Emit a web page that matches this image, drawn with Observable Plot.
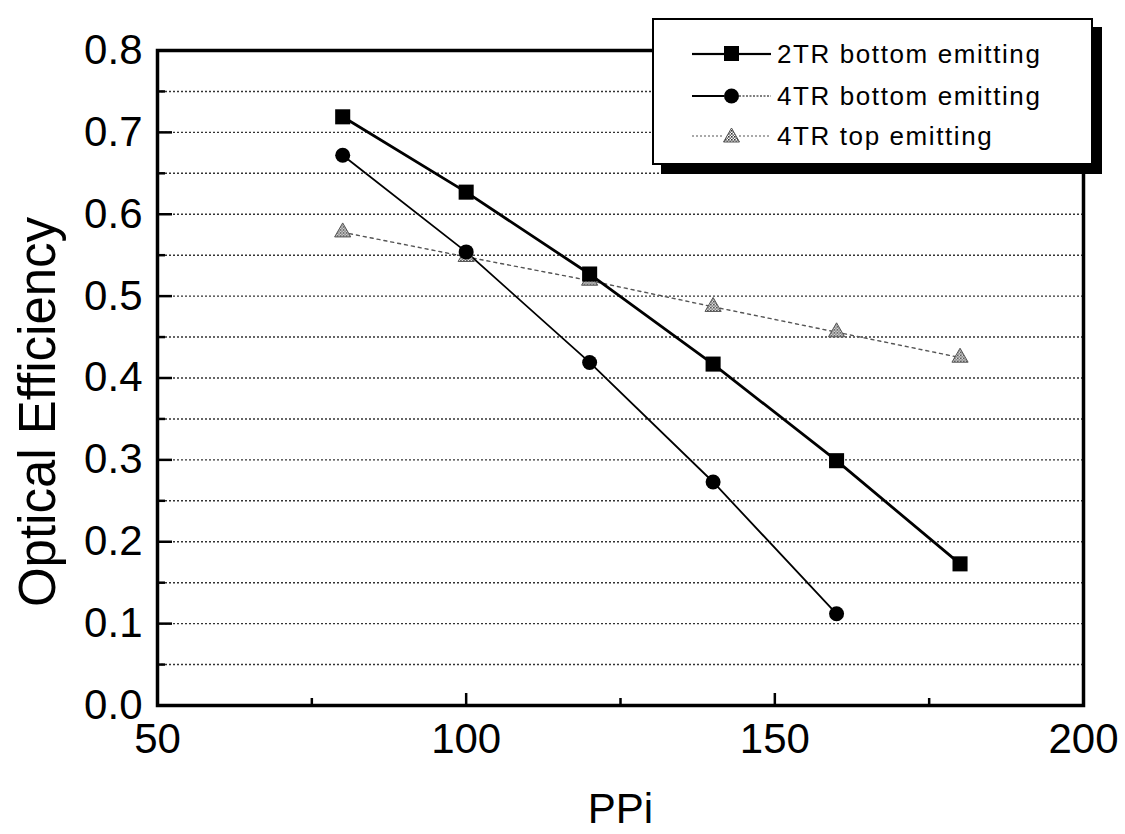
<!DOCTYPE html>
<html>
<head>
<meta charset="utf-8">
<script src="https://cdn.jsdelivr.net/npm/d3@7"></script>
<script src="https://cdn.jsdelivr.net/npm/@observablehq/plot@0.6"></script>
<style>
  html, body { margin: 0; padding: 0; background: #fff; }
  #wrap { position: relative; width: 1125px; height: 834px; font-family: "Liberation Sans", Arial, sans-serif; }
  #legend { position: absolute; left: 652px; top: 18px; width: 437px; height: 143px; border: 2px solid #000;
            background: #fff; box-shadow: 9px 9px 0 #000; }
  .row { position: absolute; left: 38px; height: 30px; display: flex; align-items: center; font-size: 26px; letter-spacing: 1.6px; color: #000; white-space: nowrap; }
  .row svg { margin-right: 6px; }
</style>
</head>
<body>
<div id="wrap"></div>
<script>
const ppi = [80, 100, 120, 140, 160, 180];
const tr2Bottom = [0.719, 0.627, 0.527, 0.417, 0.299, 0.173];
const tr4Bottom = [0.672, 0.554, 0.419, 0.273, 0.112];
const tr4Top = [0.578, 0.548, 0.519, 0.487, 0.456, 0.425];
const seriesNames = ["2TR bottom emitting", "4TR bottom emitting", "4TR top emitting"];
const yTicks = [0, 0.1, 0.2, 0.3, 0.4, 0.5, 0.6, 0.7, 0.8];
const yMinor = [0.05, 0.15, 0.25, 0.35, 0.45, 0.55, 0.65, 0.75];
const gridVals = [0.05, 0.1, 0.15, 0.2, 0.25, 0.3, 0.35, 0.4, 0.45, 0.5, 0.55, 0.6, 0.65, 0.7, 0.75];
const xTicks = [50, 100, 150, 200];
const xMinor = [75, 125, 175];
const xLabel = "PPi";
const yLabel = "Optical Efficiency";

const d2 = ppi.map((x, i) => ({x, y: tr2Bottom[i]}));
const d4b = tr4Bottom.map((y, i) => ({x: ppi[i], y}));
const d4t = ppi.map((x, i) => ({x, y: tr4Top[i]}));

const W = 1125, H = 834, mL = 157, mR = 42, mT = 50, mB = 129;
const fw = W - mL - mR, fh = H - mT - mB;

const chart = Plot.plot({
  width: W, height: H,
  marginLeft: mL, marginRight: mR, marginTop: mT, marginBottom: mB,
  style: {fontFamily: "'Liberation Sans', Arial, sans-serif", fontSize: "42px", color: "#000", background: "#fff"},
  x: {domain: [50, 200]},
  y: {domain: [0, 0.8]},
  marks: [
    Plot.gridY(gridVals, {stroke: "#000", strokeOpacity: 0.8, strokeWidth: 1.4, strokeDasharray: "2,2"}),
    Plot.axisY(yTicks, {tickSize: 0, tickPadding: 15, tickFormat: d3.format(".1f"), label: null, fontSize: 42}),
    Plot.axisX(xTicks, {tickSize: 0, tickPadding: 18, label: null, fontSize: 42}),
    // inward ticks
    Plot.tickY(yTicks, {y: d => d, insetRight: fw - 15, strokeWidth: 2.5}),
    Plot.tickY(yMinor, {y: d => d, insetRight: fw - 8, strokeWidth: 2.5}),
    Plot.tickX(xTicks, {x: d => d, insetTop: fh - 12, strokeWidth: 2.5}),
    Plot.tickX(xMinor, {x: d => d, insetTop: fh - 7, strokeWidth: 2.5}),
    Plot.frame({stroke: "#000", strokeWidth: 3.5}),
    Plot.line(d4t, {x: "x", y: "y", stroke: "#555", strokeWidth: 1.4, strokeDasharray: "3,4"}),
    Plot.line(d4b, {x: "x", y: "y", stroke: "#000", strokeWidth: 1.8}),
    Plot.line(d2, {x: "x", y: "y", stroke: "#000", strokeWidth: 2.8}),
    Plot.dot(d4t, {x: "x", y: "y", symbol: "triangle", r: 6, fill: "url(#hatch)", stroke: "#555", strokeWidth: 1}),
    Plot.dot(d4b, {x: "x", y: "y", symbol: "circle", r: 7.5, fill: "#000"}),
    Plot.dot(d2, {x: "x", y: "y", symbol: "square", r: 8.5, fill: "#000"}),
    Plot.text([yLabel], {frameAnchor: "left", dx: -119, dy: 34, rotate: -90, fontSize: 51, textAnchor: "middle", lineAnchor: "middle"}),
    Plot.text([xLabel], {frameAnchor: "bottom", dy: 104, fontSize: 42, textAnchor: "middle", lineAnchor: "middle"})
  ]
});

// hatch pattern for triangle markers
const svg = d3.select(chart);
const defs = svg.insert("defs", ":first-child");
const pat = defs.append("pattern").attr("id", "hatch").attr("patternUnits", "userSpaceOnUse")
  .attr("width", 3).attr("height", 3);
pat.append("rect").attr("width", 3).attr("height", 3).attr("fill", "#fff");
pat.append("rect").attr("width", 1.6).attr("height", 1.6).attr("fill", "#333");
pat.append("rect").attr("x", 1.5).attr("y", 1.5).attr("width", 1.5).attr("height", 1.5).attr("fill", "#666");

const wrap = document.getElementById("wrap");
wrap.appendChild(chart);

// legend
const legend = document.createElement("div");
legend.id = "legend";
wrap.appendChild(legend);
const rowsTop = [19, 61, 101];
const lineStyles = [
  {left: "stroke:#000;stroke-width:2.2", right: "stroke:#000;stroke-width:2.2", sym: "square"},
  {left: "stroke:#000;stroke-width:2", right: "stroke:#000;stroke-width:1.2;stroke-dasharray:2,1.5", sym: "circle"},
  {left: "stroke:#555;stroke-width:1.2;stroke-dasharray:2,2", right: "stroke:#555;stroke-width:1.2;stroke-dasharray:2,2", sym: "triangle"}
];
seriesNames.forEach((name, i) => {
  const row = document.createElement("div");
  row.className = "row";
  row.style.top = rowsTop[i] + "px";
  const s = lineStyles[i];
  let symbol;
  if (s.sym === "square") symbol = '<rect x="32" y="7" width="15" height="15" fill="#000"/>';
  else if (s.sym === "circle") symbol = '<circle cx="39.5" cy="15" r="7.5" fill="#000"/>';
  else symbol = '<path d="M39.5,7 L47.5,21 L31.5,21 Z" fill="url(#hatch2)" stroke="#555" stroke-width="1"/>';
  row.innerHTML = `<svg width="79" height="30">
    <defs><pattern id="hatch2" patternUnits="userSpaceOnUse" width="3" height="3">
      <rect width="3" height="3" fill="#fff"/><rect width="1.6" height="1.6" fill="#333"/>
      <rect x="1.5" y="1.5" width="1.5" height="1.5" fill="#666"/></pattern></defs>
    <line x1="0" y1="15" x2="32" y2="15" style="${s.left}"/>
    <line x1="47" y1="15" x2="79" y2="15" style="${s.right}"/>
    ${symbol}</svg><span>${name}</span>`;
  legend.appendChild(row);
});
</script>
</body>
</html>
